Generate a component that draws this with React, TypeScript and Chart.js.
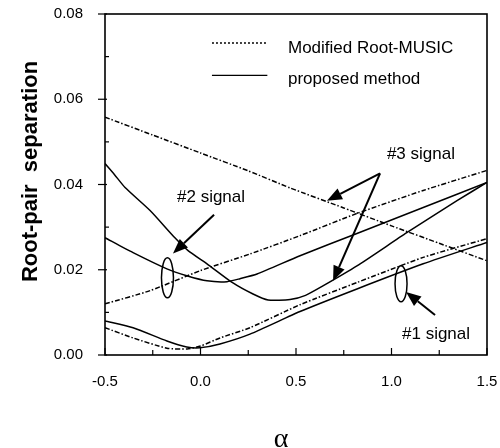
import React, { useEffect, useRef } from "react";
import { Chart, registerables } from "chart.js";

Chart.register(...registerables);

// ---- data (alpha, root-pair separation) ----
const sig3MrmAlpha = [-0.5, -0.25, 0.0, 0.25, 0.469, 0.75, 1.0, 1.25, 1.5];
const sig3MrmSep = [0.0558, 0.0516, 0.0474, 0.0432, 0.0392, 0.0345, 0.0303, 0.0262, 0.0221];

const sig3PropAlpha = [-0.5, -0.45, -0.395, -0.264, -0.134, -0.065, 0.034, 0.17, 0.275, 0.354, 0.469, 0.55, 0.641, 0.819, 1.08, 1.343, 1.5];
const sig3PropSep = [0.0449, 0.0423, 0.0393, 0.0339, 0.0275, 0.0245, 0.0214, 0.0169, 0.0143, 0.0129, 0.013, 0.014, 0.0162, 0.0209, 0.0287, 0.0362, 0.0405];

const sig2MrmAlpha = [-0.5, -0.264, 0.0, 0.259, 0.521, 0.819, 1.166, 1.5];
const sig2MrmSep = [0.012, 0.0151, 0.0198, 0.0237, 0.028, 0.0332, 0.0386, 0.0433];

const sig2PropAlpha = [-0.5, -0.353, -0.176, -0.072, 0.034, 0.139, 0.207, 0.296, 0.521, 0.819, 1.166, 1.5];
const sig2PropSep = [0.0275, 0.024, 0.0202, 0.0186, 0.0174, 0.0172, 0.0179, 0.019, 0.0233, 0.0285, 0.0346, 0.0405];

const sig1MrmAlpha = [-0.5, -0.353, -0.176, -0.07, 0.0, 0.102, 0.259, 0.521, 0.819, 1.166, 1.5];
const sig1MrmSep = [0.0064, 0.004, 0.0016, 0.0014, 0.0021, 0.004, 0.0064, 0.0118, 0.017, 0.0229, 0.0273];

const sig1PropAlpha = [-0.5, -0.353, -0.176, -0.072, -0.003, 0.102, 0.259, 0.521, 0.819, 1.166, 1.5];
const sig1PropSep = [0.008, 0.0064, 0.0033, 0.0019, 0.0017, 0.0026, 0.0049, 0.0102, 0.0155, 0.0214, 0.0264];

const xMin = -0.5;
const xMax = 1.5;
const xStep = 0.5;
const xMinorStep = 0.25;
const yMin = 0;
const yMax = 0.08;
const yStep = 0.02;
const yMinorStep = 0.01;

const legendLabels = ["Modified Root-MUSIC", "proposed method"];
const signalLabels = ["#1 signal", "#2 signal", "#3 signal"];
const yTitle = "Root-pair  separation";
const xTitle = "\u03b1";

const SANS = "'Liberation Sans', Arial, Helvetica, sans-serif";
const SERIF = "'Liberation Serif', 'Times New Roman', serif";
const MRM_DASH = [5, 2, 1.5, 2];

const pts = (xs: number[], ys: number[]) => xs.map((x, i) => ({ x, y: ys[i] }));

function drawArrow(ctx: CanvasRenderingContext2D, x1: number, y1: number, x2: number, y2: number) {
  const ang = Math.atan2(y2 - y1, x2 - x1);
  const len = 15;
  const half = 6;
  const bx = x2 - len * Math.cos(ang);
  const by = y2 - len * Math.sin(ang);
  ctx.beginPath();
  ctx.moveTo(x1, y1);
  ctx.lineTo(bx, by);
  ctx.stroke();
  ctx.beginPath();
  ctx.moveTo(x2, y2);
  ctx.lineTo(bx + half * Math.sin(ang), by - half * Math.cos(ang));
  ctx.lineTo(bx - half * Math.sin(ang), by + half * Math.cos(ang));
  ctx.closePath();
  ctx.fill();
}

const decorPlugin = {
  id: "decor",
  afterDatasetsDraw(chart: any) {
    const ctx: CanvasRenderingContext2D = chart.ctx;
    const xs = chart.scales.x;
    const ys = chart.scales.y;
    const px = (a: number) => xs.getPixelForValue(a);
    const py = (v: number) => ys.getPixelForValue(v);
    ctx.save();
    ctx.strokeStyle = "#000";
    ctx.fillStyle = "#000";

    // legend
    ctx.lineWidth = 1.3;
    ctx.setLineDash([2, 2]);
    ctx.beginPath();
    ctx.moveTo(px(0.06), py(0.0732));
    ctx.lineTo(px(0.343), py(0.0732));
    ctx.stroke();
    ctx.setLineDash([]);
    ctx.beginPath();
    ctx.moveTo(px(0.06), py(0.0656));
    ctx.lineTo(px(0.35), py(0.0656));
    ctx.stroke();
    ctx.font = `17px ${SANS}`;
    ctx.textAlign = "left";
    ctx.textBaseline = "middle";
    ctx.fillText(legendLabels[0], px(0.458), py(0.072));
    ctx.fillText(legendLabels[1], px(0.458), py(0.0647));

    // signal labels
    ctx.textBaseline = "alphabetic";
    ctx.fillText(signalLabels[0], px(1.055), py(0.0038));
    ctx.fillText(signalLabels[1], px(-0.123), py(0.036));
    ctx.fillText(signalLabels[2], px(0.976), py(0.0459));

    // arrows
    ctx.lineWidth = 2;
    drawArrow(ctx, px(0.071), py(0.0329), px(-0.144), py(0.0238));
    drawArrow(ctx, px(0.94), py(0.0426), px(0.662), py(0.0362));
    drawArrow(ctx, px(0.94), py(0.0426), px(0.694), py(0.0174));
    drawArrow(ctx, px(1.228), py(0.0094), px(1.076), py(0.0148));

    // ellipses
    ctx.lineWidth = 1.5;
    ctx.beginPath();
    ctx.ellipse(px(-0.173), py(0.0181), 6, 20, 0, 0, Math.PI * 2);
    ctx.stroke();
    ctx.beginPath();
    ctx.ellipse(px(1.05), py(0.0167), 6, 18, 0, 0, Math.PI * 2);
    ctx.stroke();
    ctx.restore();
  },
  afterDraw(chart: any) {
    const ctx: CanvasRenderingContext2D = chart.ctx;
    const ca = chart.chartArea;
    const xs = chart.scales.x;
    const ys = chart.scales.y;
    ctx.save();
    ctx.strokeStyle = "#000";
    ctx.fillStyle = "#000";
    ctx.lineWidth = 1.6;
    ctx.strokeRect(ca.left, ca.top, ca.right - ca.left, ca.bottom - ca.top);

    ctx.lineWidth = 1.2;
    // x ticks (inside)
    const nx = Math.round((xMax - xMin) / xMinorStep);
    for (let i = 0; i <= nx; i++) {
      const v = xMin + i * xMinorStep;
      const major = Math.abs(v / xStep - Math.round(v / xStep)) < 1e-6;
      const x = xs.getPixelForValue(v);
      ctx.beginPath();
      ctx.moveTo(x, ca.bottom);
      ctx.lineTo(x, ca.bottom - (major ? 7 : 5));
      ctx.stroke();
    }
    // y ticks: major outside, minor inside
    const ny = Math.round((yMax - yMin) / yMinorStep);
    for (let i = 0; i <= ny; i++) {
      const v = yMin + i * yMinorStep;
      const major = i % Math.round(yStep / yMinorStep) === 0;
      const y = ys.getPixelForValue(v);
      ctx.beginPath();
      if (major) {
        ctx.moveTo(ca.left - 7, y);
        ctx.lineTo(ca.left + 2, y);
      } else {
        ctx.moveTo(ca.left, y);
        ctx.lineTo(ca.left + 4, y);
      }
      ctx.stroke();
    }

    // axis titles
    ctx.font = `bold 22px ${SANS}`;
    ctx.textAlign = "center";
    ctx.textBaseline = "alphabetic";
    ctx.save();
    ctx.translate(ca.left - 68, (ca.top + ca.bottom) / 2 - 13);
    ctx.rotate(-Math.PI / 2);
    ctx.fillText(yTitle, 0, 0);
    ctx.restore();

    ctx.font = `28px ${SERIF}`;
    ctx.fillText(xTitle, (ca.left + ca.right) / 2 - 15, ca.bottom + 92);
    ctx.restore();
  },
};

export default function App() {
  const ref = useRef<HTMLCanvasElement | null>(null);
  useEffect(() => {
    if (!ref.current) return;
    const lineDs = (xs: number[], ys: number[], dashed: boolean, label: string) => ({
      label,
      data: pts(xs, ys),
      borderColor: "#000",
      borderWidth: 1.5,
      borderDash: dashed ? MRM_DASH : [],
      pointRadius: 0,
      fill: false,
      tension: 0.2,
    });
    const chart = new Chart(ref.current, {
      type: "line",
      data: {
        datasets: [
          lineDs(sig3MrmAlpha, sig3MrmSep, true, legendLabels[0] + " #3"),
          lineDs(sig3PropAlpha, sig3PropSep, false, legendLabels[1] + " #3"),
          lineDs(sig2MrmAlpha, sig2MrmSep, true, legendLabels[0] + " #2"),
          lineDs(sig2PropAlpha, sig2PropSep, false, legendLabels[1] + " #2"),
          lineDs(sig1MrmAlpha, sig1MrmSep, true, legendLabels[0] + " #1"),
          lineDs(sig1PropAlpha, sig1PropSep, false, legendLabels[1] + " #1"),
        ],
      },
      options: {
        responsive: false,
        animation: false,
        devicePixelRatio: 1,
        layout: { padding: { top: 14, right: 13, left: 0, bottom: 0 } },
        plugins: { legend: { display: false }, tooltip: { enabled: false } },
        scales: {
          x: {
            type: "linear",
            min: xMin,
            max: xMax,
            grid: { display: false, drawTicks: false },
            border: { display: false },
            ticks: {
              stepSize: xStep,
              padding: 18,
              color: "#000",
              font: { size: 15, family: SANS },
              maxRotation: 0,
              autoSkip: false,
              callback: (v: any) => Number(v).toFixed(1),
            },
            afterFit: (s: any) => {
              s.height = 93;
              s.paddingLeft = 0;
              s.paddingRight = 0;
              s.paddingTop = 0;
              s.paddingBottom = 0;
            },
          },
          y: {
            type: "linear",
            min: yMin,
            max: yMax,
            grid: { display: false, drawTicks: false },
            border: { display: false },
            ticks: {
              stepSize: yStep,
              padding: 22,
              color: "#000",
              font: { size: 15, family: SANS },
              callback: (v: any) => Number(v).toFixed(2),
            },
            afterFit: (s: any) => {
              s.width = 105;
              s.paddingLeft = 0;
              s.paddingRight = 0;
              s.paddingTop = 0;
              s.paddingBottom = 0;
            },
          },
        },
      },
      plugins: [decorPlugin],
    } as any);
    return () => chart.destroy();
  }, []);
  return (
    <div style={{ position: "absolute", left: 0, top: 0, width: 500, height: 448, background: "#fff" }}>
      <canvas ref={ref} width={500} height={448} style={{ width: 500, height: 448 }} />
    </div>
  );
}
